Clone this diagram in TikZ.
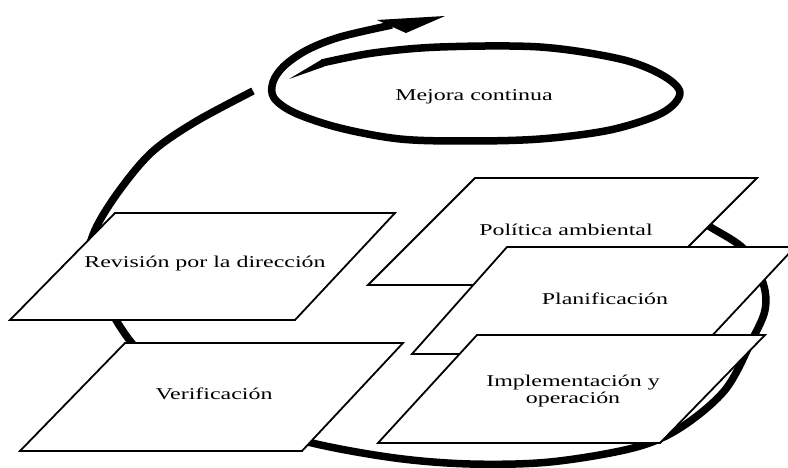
\documentclass[tikz,border=0pt]{standalone}
\usepackage{fontspec}
\newfontfamily\lblfont[FakeStretch=1.45]{Liberation Serif}
\begin{document}
\begin{tikzpicture}[x=1pt,y=-1pt,
  card/.style={draw=black, line width=1.8pt, fill=white, line join=miter},
  band/.style={draw=black, line width=7.5pt, line cap=butt, line join=round},
  lbl/.style={font=\lblfont\fontsize{16.5}{17}\selectfont, text=black,
              align=center, inner sep=0pt}]
\useasboundingbox (0,0) rectangle (788,468);

% large cycle running behind the cards
\draw[band] plot[smooth, tension=0.55] coordinates {
  (683,212) (712,228) (745,250) (763,283) (765,310) (752,340) (725,390)
  (680,428) (633,448) (550,462) (470,464) (395,458) (312,443) (235,420)
  (175,387) (131,342) (105,300) (89,260) (95,230) (119,191) (152,152)
  (195,122) (253,91)};

% spiral around "Mejora continua" ending in the arrow
\fill (289,79) -- (322,59.3) -- (324,66.7) -- cycle;
\draw[band] plot[smooth, tension=0.55] coordinates {
  (322,63) (373,53) (440,47) (540,47) (620,59) (662,75) (680,93)
  (662,113) (610,130) (540,139) (467,141) (400,139) (340,128) (295,113)
  (274,98) (273,82) (284,66) (307,50) (340,37) (392,25)};
\fill (377,20) -- (445,16) -- (406,33) -- cycle;
\node[lbl] (mejora) at (474,97) {Mejora continua};

% left column
\draw[card] (115,213) -- (395,213) -- (295,320) -- (10,320) -- cycle;
\node[lbl] (rev) at (205,264) {Revisión por la dirección};
\draw[card] (125,343) -- (403,343) -- (302,451) -- (20,451) -- cycle;
\node[lbl] (verif) at (214,394) {Verificación};

% right column, stacked
\draw[card] (475,178) -- (757,178) -- (650,285) -- (368,285) -- cycle;
\node[lbl] (politica) at (566,230) {Política ambiental};
\draw[card] (507,247) -- (795,247) -- (695,354) -- (412,354) -- cycle;
\node[lbl] (plan) at (605,299) {Planificación};
\draw[card] (477,335) -- (765,335) -- (660,443) -- (378,443) -- cycle;
\node[lbl] (impl) at (573,391) {Implementación y\\operación};
\end{tikzpicture}
\end{document}
